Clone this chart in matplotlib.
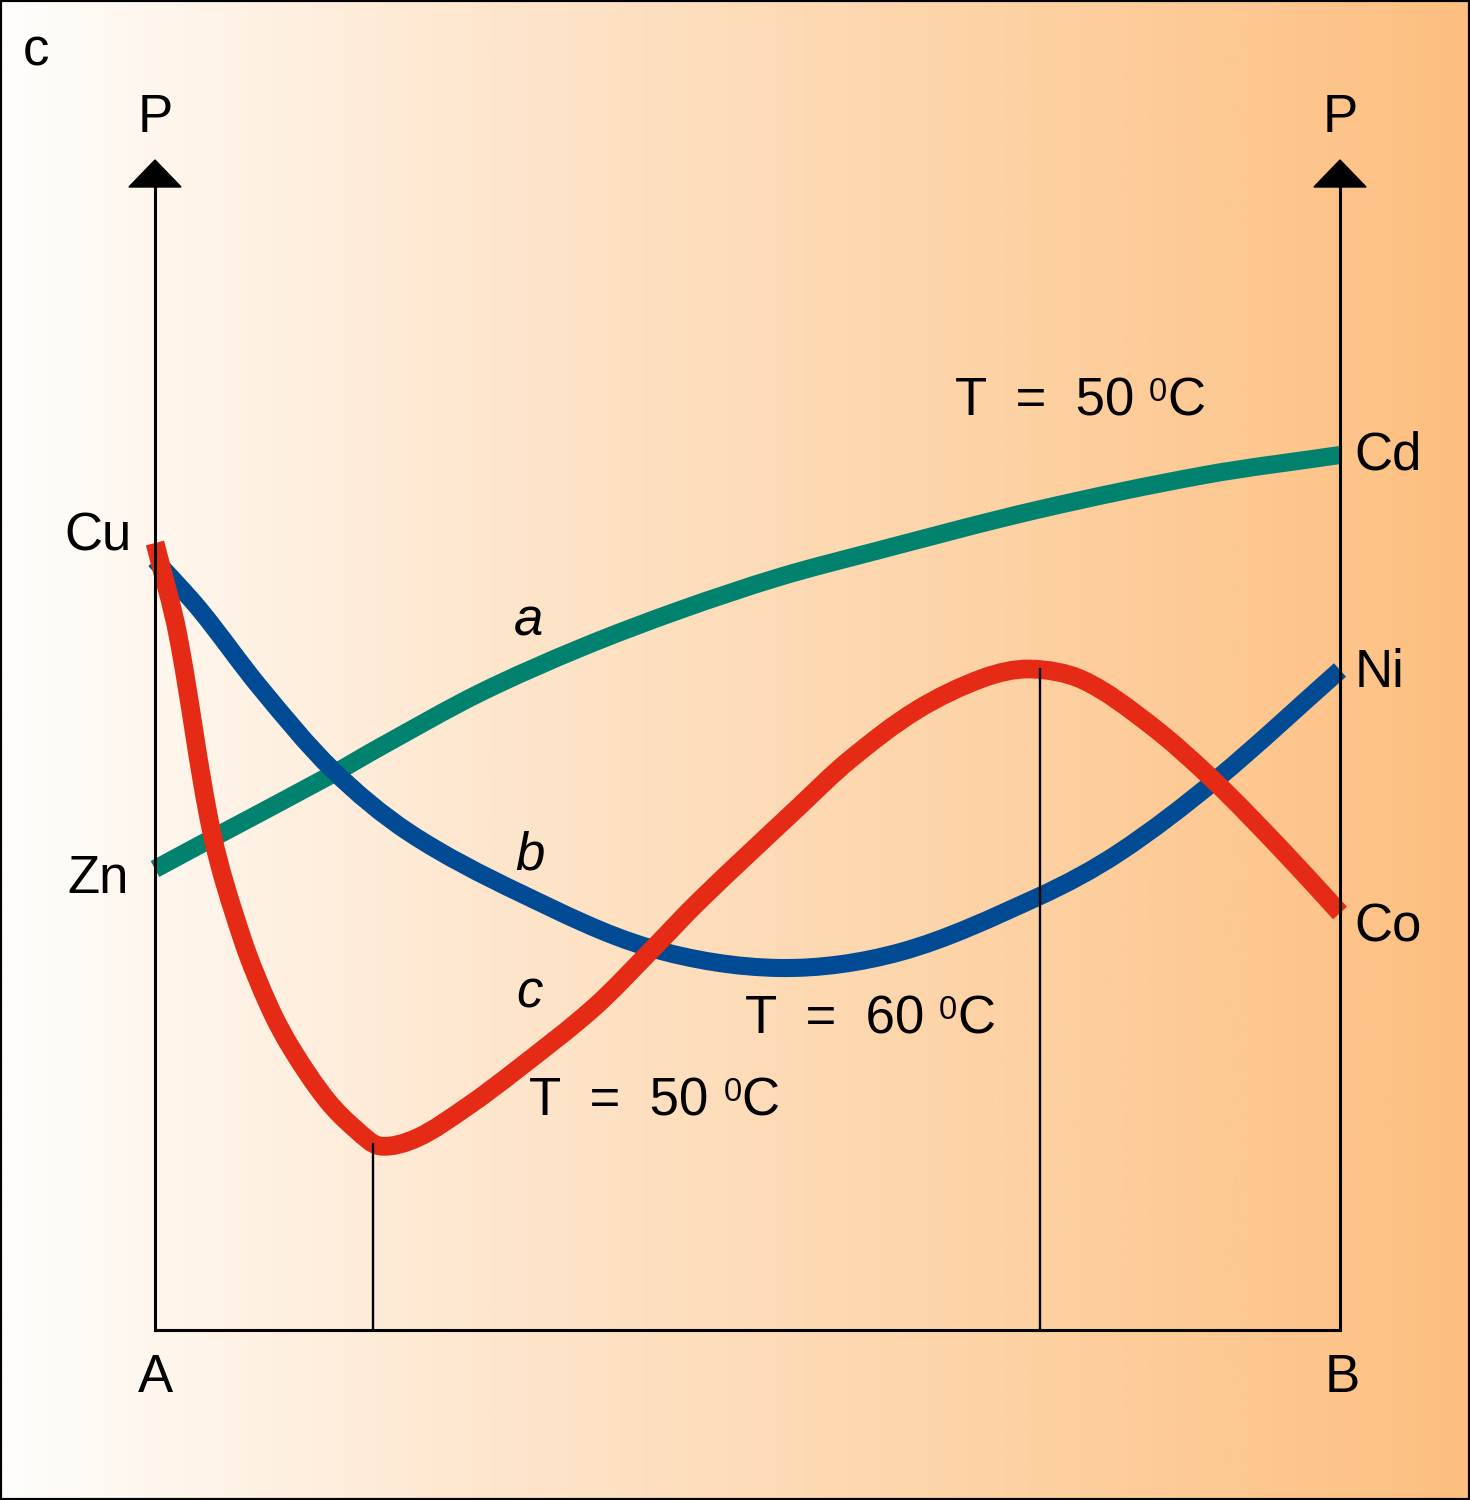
import numpy as np
import matplotlib.pyplot as plt
from matplotlib.colors import LinearSegmentedColormap
from matplotlib.patches import Rectangle, Polygon, PathPatch
from matplotlib.path import Path

plt.rcParams['font.family'] = ['Liberation Sans', 'DejaVu Sans']

# composition A -> B (0..1) and vapour pressure P (arbitrary units)
a_x = [0.0, 0.044, 0.150, 0.190, 0.274, 0.359, 0.443, 0.527, 0.602, 0.744, 0.886, 1.0]
a_p = [4.61, 4.89, 5.56, 5.83, 6.37, 6.82, 7.20, 7.53, 7.77, 8.20, 8.55, 8.75]

b_x = [0.0, 0.038, 0.089, 0.150, 0.215, 0.308, 0.418, 0.527, 0.629, 0.745, 0.813, 0.895, 1.0]
b_p = [7.70, 7.20, 6.42, 5.60, 4.97, 4.37, 3.82, 3.62, 3.78, 4.33, 4.77, 5.50, 6.60]

c_x = [0.0, 0.019, 0.048, 0.074, 0.097, 0.116, 0.145, 0.170, 0.190, 0.221, 0.263, 0.305,
       0.370, 0.419, 0.460, 0.544, 0.586, 0.643, 0.699, 0.738, 0.783, 0.840, 0.893, 0.951, 1.0]
c_p = [7.87, 6.97, 4.97, 3.90, 3.22, 2.80, 2.30, 2.00, 1.84, 1.92, 2.23, 2.60,
       3.22, 3.80, 4.30, 5.24, 5.70, 6.20, 6.52, 6.61, 6.50, 6.05, 5.50, 4.80, 4.17]

# drop lines from the extrema of c
vline_x = [0.184, 0.747]
vline_top = [1.86, 6.61]

left_labels = ['Cu', 'Zn']
left_pos = [b_p[0] + 0.23, a_p[0] - 0.1]
right_labels = ['Cd', 'Ni', 'Co']
right_pos = [a_p[-1], b_p[-1] - 0.03, c_p[-1] - 0.15]

green = '#00826e'
blue = '#004b93'
red = '#e52b16'

SX, SY = 1185.0, 100.0   # pixels per unit on each axis, used only for smoothing


def smooth_path(xs, ys):
    # non-uniform Catmull-Rom through the read points, as cubic Bezier segments
    pts = np.column_stack([np.asarray(xs) * SX, np.asarray(ys) * SY])
    n = len(pts)
    d = np.sqrt(((pts[1:] - pts[:-1]) ** 2).sum(axis=1))
    t = np.concatenate([[0], np.cumsum(d)])
    tang = np.zeros_like(pts)
    tang[0] = (pts[1] - pts[0]) / d[0]
    tang[-1] = (pts[-1] - pts[-2]) / d[-1]
    for i in range(1, n - 1):
        tang[i] = (pts[i + 1] - pts[i - 1]) / (t[i + 1] - t[i - 1])
    verts = [pts[0]]
    codes = [Path.MOVETO]
    for i in range(n - 1):
        h = d[i] / 3
        verts += [pts[i] + tang[i] * h, pts[i + 1] - tang[i + 1] * h, pts[i + 1]]
        codes += [Path.CURVE4] * 3
    verts = np.array(verts) / [SX, SY]
    return Path(verts, codes)


def curve(ax, xs, ys, color, lw):
    ax.add_patch(PathPatch(smooth_path(xs, ys), fill=False, ec=color, lw=lw,
                           capstyle='butt', joinstyle='round'))


def temp_label(ax, x, y, value, fs):
    t = ax.text(x, y, f'T  =  {value} ', ha='left', va='center', fontsize=fs)
    sup = ax.annotate('0', xy=(1, 1.0), xycoords=t, ha='left', va='top', fontsize=fs * 0.62)
    ax.annotate('C', xy=(1, 0.5), xycoords=(sup, t), ha='left', va='center', fontsize=fs)


fig = plt.figure(figsize=(14.7, 15), dpi=100)

# background gradient + frame
bg = fig.add_axes([0, 0, 1, 1])
bg.axis('off')
grad = np.linspace(0, 1, 512).reshape(1, -1)
cmap = LinearSegmentedColormap.from_list('bg', ['#fffefc', '#fee6cd', '#fdd3a6', '#fdbf80'])
bg.imshow(grad, aspect='auto', cmap=cmap, extent=[0, 1, 0, 1])
bg.set_xlim(0, 1)
bg.set_ylim(0, 1)
bg.add_patch(Rectangle((0, 0), 1, 1, fill=False, lw=3, ec='black', transform=bg.transAxes))

ax = fig.add_axes([0, 0, 1, 1])
ax.patch.set_alpha(0)
ax.axis('off')
ax.set_xlim(-155 / 1185, 1315 / 1185)
ax.set_ylim(-1.7, 13.3)

top = 11.43
# axes
ax.plot([0, 0], [0, top], color='black', lw=2.2)
ax.plot([1, 1], [0, top], color='black', lw=2.2)
ax.plot([0, 1], [0, 0], color='black', lw=2.2, solid_capstyle='projecting')
for xa in [0, 1]:
    ax.add_patch(Polygon([[xa - 0.022, top], [xa + 0.022, top], [xa, top + 0.27]],
                         closed=True, color='black'))

for vx, vt in zip(vline_x, vline_top):
    ax.plot([vx, vx], [0, vt], color='black', lw=1.7)

curve(ax, a_x, a_p, green, 13)
curve(ax, b_x, b_p, blue, 13)
curve(ax, c_x, c_p, red, 13.5)

fs = 38
ax.text(0, 12.12, 'P', ha='center', va='center', fontsize=fs)
ax.text(1, 12.12, 'P', ha='center', va='center', fontsize=fs)
ax.text(0, -0.48, 'A', ha='center', va='center', fontsize=fs)
ax.text(1.002, -0.48, 'B', ha='center', va='center', fontsize=fs)
for lab, p in zip(left_labels, left_pos):
    ax.text(-0.048, p, lab, ha='center', va='center', fontsize=fs)
for lab, p in zip(right_labels, right_pos):
    ax.text(1.012, p, lab, ha='left', va='center', fontsize=fs)

ax.text(0.315, 7.08, 'a', ha='center', va='center', fontsize=fs, style='italic')
ax.text(0.316, 4.75, 'b', ha='center', va='center', fontsize=fs, style='italic')
ax.text(0.316, 3.37, 'c', ha='center', va='center', fontsize=fs, style='italic')

temp_label(ax, 0.675, 9.28, 50, fs)
temp_label(ax, 0.498, 3.10, 60, fs)
temp_label(ax, 0.316, 2.28, 50, fs)

fig.text(36 / 1470, 1 - 52 / 1500, 'c', ha='center', va='center', fontsize=fs)

fig.savefig('out.png', dpi=100)
